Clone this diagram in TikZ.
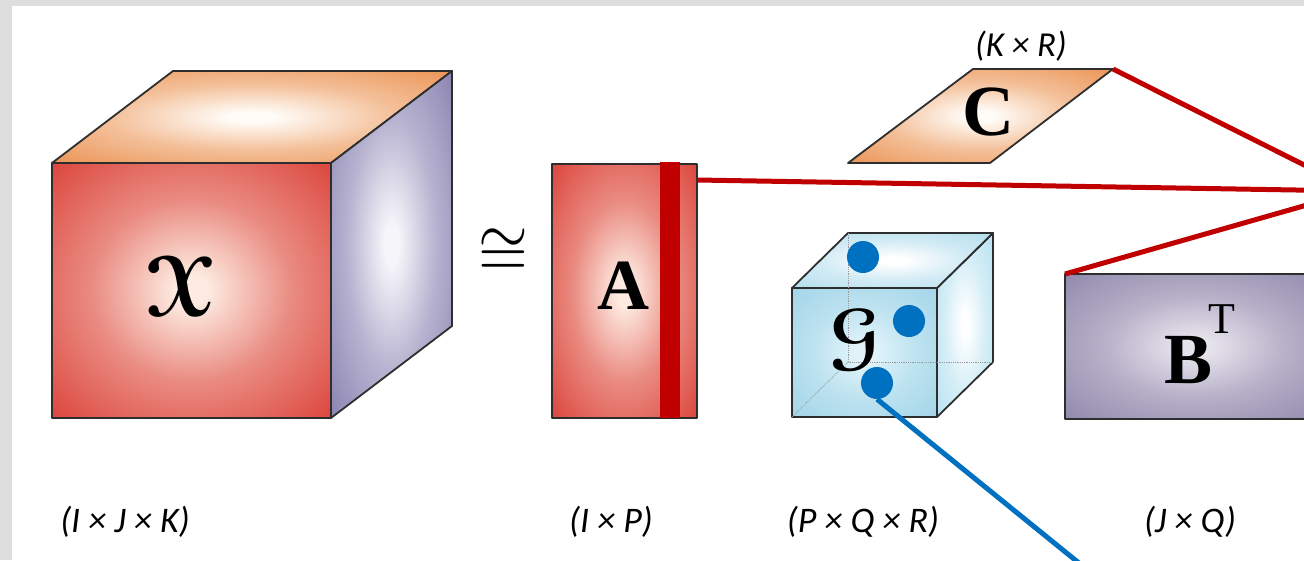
\documentclass[tikz,border=0pt]{standalone}
\usepackage{fontspec}
\setmainfont{Liberation Serif}
\newfontfamily\lblfont{Carlito}
\definecolor{bggray}{HTML}{DEDEDE}
\definecolor{edgec}{HTML}{2E2E2E}
\definecolor{redout}{HTML}{D62B22}
\definecolor{redin}{HTML}{FDEAE0}
\definecolor{orout}{HTML}{E8843C}
\definecolor{orin}{HTML}{FFFBF6}
\definecolor{puout}{HTML}{7A71A6}
\definecolor{puin}{HTML}{F6F5FA}
\definecolor{bout}{HTML}{847BA2}
\definecolor{bin}{HTML}{E6E3EC}
\definecolor{gfout}{HTML}{98D0E5}
\definecolor{gfin}{HTML}{E2F4FA}
\definecolor{gtout}{HTML}{A6D8EA}
\definecolor{grout}{HTML}{ACDDEE}
\definecolor{linered}{HTML}{C00000}
\definecolor{dotblue}{HTML}{0070C0}
\newcommand\mkshade[3]{%
  \colorlet{#1mida}{#3!50!#2}%
  \colorlet{#1midb}{#3!85!#2}%
  \pgfdeclareradialshading{#1}{\pgfpoint{0bp}{0bp}}{%
    color(0bp)=(#2); color(3bp)=(#2); color(18bp)=(#1mida); color(35bp)=(#1midb); color(50bp)=(#3)}}
\mkshade{redsh}{redin}{redout}
\mkshade{orsh}{orin}{orout}
\mkshade{push}{puin}{puout}
\mkshade{bsh}{bin}{bout}
\mkshade{gfsh}{gfin}{gfout}
\mkshade{gtsh}{white}{gtout}
\mkshade{grsh}{white}{grout}
\begin{document}
\begin{tikzpicture}[x=1pt,y=-1pt,
  faceedge/.style={draw=edgec, line width=1.8pt, line join=round},
  redface/.style={faceedge, shading=redsh},
  orface/.style={faceedge, shading=orsh},
  puface/.style={faceedge, shading=push},
  bface/.style={faceedge, shading=bsh},
  gfront/.style={faceedge, shading=gfsh},
  gtop/.style={faceedge, shading=gtsh},
  gright/.style={faceedge, shading=grsh},
  hidden/.style={draw=gray!80, line width=0.8pt, densely dotted},
  redline/.style={draw=linered, line width=5pt},
  blueline/.style={draw=dotblue, line width=5pt},
  gdot/.style={circle, fill=dotblue, minimum size=32pt, inner sep=0pt},
  biglbl/.style={inner sep=0pt, font=\fontsize{72}{72}\selectfont\bfseries},
  dimlbl/.style={inner sep=0pt, font=\lblfont\itshape\fontsize{36}{36}\selectfont},
  toplbl/.style={inner sep=0pt, font=\lblfont\itshape\fontsize{35}{35}\selectfont}]
\useasboundingbox (0,0) rectangle (1304,560);
\clip (0,0) rectangle (1304,560);
\fill[bggray] (0,0) rectangle (1304,560);
\fill[white] (12,6) rectangle (1304,560);

% ---- tensor X ----
\coordinate (xf1) at (52,163);
\coordinate (xf2) at (331,163);
\coordinate (xf3) at (331,418);
\coordinate (xf4) at (52,418);
\coordinate (xb1) at (173,71);
\coordinate (xb2) at (452,71);
\coordinate (xb3) at (452,326);
\shadedraw[redface] (xf1) -- (xf2) -- (xf3) -- (xf4) -- cycle;
\shadedraw[orface] (xf1) -- (xb1) -- (xb2) -- (xf2) -- cycle;
\shadedraw[puface] (xf2) -- (xb2) -- (xb3) -- (xf3) -- cycle;
\node[inner sep=0pt] (xlab) at (181,287) {\scalebox{8.5}{\usefont{U}{eus}{b}{n}X}};

% ---- approx symbol ----
\node[inner sep=0pt] (approx) at (503,253) {\scalebox{6.4}[7]{$\cong$}};

% ---- matrix A ----
\shadedraw[redface] (552,164) rectangle (697,418);
\node[biglbl] (alab) at (623,286) {A};
\fill[linered] (660,162) rectangle (680,418);
\coordinate (aout) at (697,180);

% ---- matrix C ----
\coordinate (c1) at (973,69);
\coordinate (c2) at (1113,69);
\coordinate (c3) at (990,163);
\coordinate (c4) at (848,163);
\shadedraw[orface] (c1) -- (c2) -- (c3) -- (c4) -- cycle;
\node[biglbl] (clab) at (988,112) {C};
\node[toplbl] (cdim) at (1021,46) {(K × R)};

% ---- core tensor G ----
\coordinate (gf1) at (792,288);
\coordinate (gf2) at (937,288);
\coordinate (gf3) at (937,417);
\coordinate (gf4) at (792,417);
\coordinate (gb1) at (848,233);
\coordinate (gb2) at (993,233);
\coordinate (gb3) at (993,362);
\coordinate (gb4) at (848,362);
\shadedraw[gright] (gf2) -- (gb2) -- (gb3) -- (gf3) -- cycle;
\shadedraw[gtop] (gf1) -- (gb1) -- (gb2) -- (gf2) -- cycle;
\shadedraw[gfront] (gf1) -- (gf2) -- (gf3) -- (gf4) -- cycle;
\draw[hidden] (gb1) -- (gb4) -- (gb3);
\draw[hidden] (gb4) -- (gf4);
\node[inner sep=0pt] (glab) at (855,340) {\scalebox{7.5}{\usefont{U}{eus}{b}{n}G}};
\node[gdot] (d1) at (863,257) {};
\node[gdot] (d2) at (909,321) {};
\node[gdot] (d3) at (877,383) {};

% ---- matrix B^T ----
\shadedraw[bface] (1065,274) rectangle (1325,419);
\coordinate (bcorner) at (1065,274);
\node[biglbl, anchor=base west] (blab) at (1164,383) {B\kern-4pt\raisebox{50pt}{\mdseries\fontsize{44}{44}\selectfont T}};

% ---- connectors ----
\coordinate (conv) at (1356,191);
\coordinate (gend) at (1090,572);
\draw[redline] (aout) -- (conv);
\draw[redline] (c2) -- (conv);
\draw[redline] (bcorner) -- (conv);
\draw[blueline] (d3.south) -- (gend);

% ---- dimension labels ----
\node[dimlbl] (xdim) at (125,522) {(I × J × K)};
\node[dimlbl] (adim) at (611,522) {(I × P)};
\node[dimlbl] (gdim) at (863,522) {(P × Q × R)};
\node[dimlbl] (bdim) at (1190,522) {(J × Q)};
\end{tikzpicture}
\end{document}
